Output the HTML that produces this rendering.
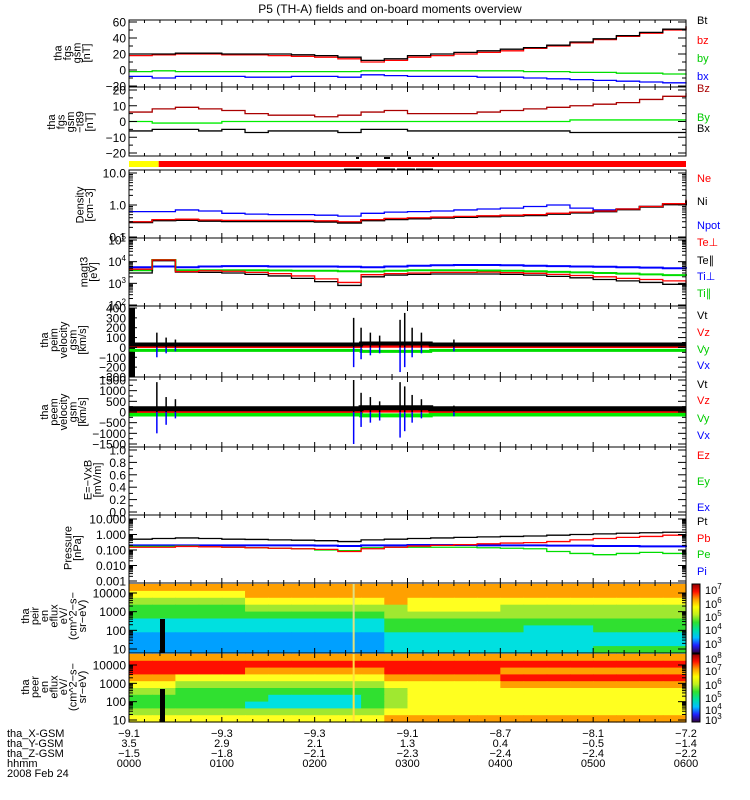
<!DOCTYPE html>
<html><head><meta charset="utf-8"><style>
html,body{margin:0;padding:0;background:#fff;}
svg{display:block;font-family:"Liberation Sans",sans-serif;}
</style></head><body>
<svg id="c" width="750" height="800" xmlns="http://www.w3.org/2000/svg">
<text x="390" y="13" font-size="12" text-anchor="middle">P5 (TH-A) fields and on-board moments overview</text>
</svg>
<script>
// ---- data (hours 0..6, 15-min samples) ----
const times=[0,0.25,0.5,0.75,1,1.25,1.5,1.75,2,2.25,2.5,2.75,3,3.25,3.5,3.75,4,4.25,4.5,4.75,5,5.25,5.5,5.75,6];
const bt=[20,20,21,21,20,20,20,19,18,16,12,14,18,20,22,24,26,28,31,35,39,43,47,51,55];
const bz=[18,19,20,20,19,19,18,17,16,14,10,12,16,18,20,22,24,27,30,34,38,42,46,50,54];
const by=[-2,-1,-2,-2,-2,-2,-2,-2,-2,-2,-1,-1,-1,-1,-1,-1,-1,-2,-2,-3,-3,-4,-4,-5,-6];
const bx=[-8,-10,-8,-8,-8,-9,-9,-8,-8,-9,-6,-7,-8,-8,-8,-9,-9,-10,-11,-12,-13,-14,-15,-16,-17];
const dBz=[6,8,9,8,7,5,4,4,3,4,6,7,5,5,5,6,7,8,9,10,11,12,14,16,18];
const dBy=[0,-1,-1,-1,0,0,0,0,0,0,0,0,0,0,0,0,0,0,0,1,1,1,1,1,1];
const dBx=[-6,-5,-5,-6,-5,-7,-6,-6,-6,-7,-5,-5,-6,-6,-6,-6,-6,-6,-6,-7,-7,-7,-7,-7,-7];
const ne=[0.3,0.35,0.36,0.34,0.33,0.33,0.33,0.33,0.32,0.3,0.35,0.38,0.4,0.42,0.44,0.46,0.48,0.5,0.55,0.6,0.65,0.75,0.9,1.1,1.5];
const ni=[0.29,0.33,0.34,0.32,0.31,0.31,0.31,0.31,0.3,0.28,0.33,0.36,0.38,0.4,0.42,0.44,0.46,0.48,0.53,0.58,0.63,0.73,0.88,1.05,1.4];
const npot=[0.62,0.62,0.7,0.65,0.55,0.52,0.5,0.5,0.48,0.45,0.55,0.6,0.62,0.65,0.7,0.75,0.8,0.9,1.0,0.8,0.7,0.75,0.9,1.1,1.3];
const tePerp=[4500,12000,3500,3800,3600,3200,2800,2200,1600,1100,2500,2800,3000,3200,3200,3300,3100,2900,2600,2300,2000,1700,1500,1300,1000];
const tePar=[3000,11000,3300,3200,3000,2600,2200,1700,1200,800,2000,2400,2600,2700,2700,2700,2600,2400,2100,1800,1500,1300,1100,900,700];
const tiPerp=[5500,6000,5500,6000,6200,6200,6000,6000,6000,5800,5500,6000,6500,6800,7000,7000,6800,6500,6200,6000,5800,5500,5300,5000,4800];
const tiPar=[4000,12000,4000,4000,4000,4000,3900,3800,3800,3600,3500,3800,4000,4000,4000,3900,3800,3600,3400,3200,3000,2800,2600,2400,2200];
const pt=[0.5,0.55,0.6,0.55,0.5,0.48,0.45,0.43,0.4,0.35,0.45,0.5,0.55,0.6,0.65,0.7,0.75,0.8,0.9,1.0,1.1,1.2,1.3,1.4,1.5];
const pb=[0.15,0.15,0.17,0.16,0.15,0.14,0.13,0.12,0.11,0.08,0.12,0.15,0.18,0.2,0.22,0.25,0.28,0.3,0.35,0.45,0.55,0.65,0.75,0.9,1.0];
const pe=[0.17,0.17,0.18,0.16,0.15,0.14,0.13,0.12,0.1,0.09,0.14,0.15,0.15,0.15,0.15,0.14,0.13,0.12,0.08,0.06,0.05,0.06,0.07,0.06,0.05];
const pi=[0.2,0.2,0.2,0.2,0.2,0.2,0.2,0.2,0.19,0.18,0.2,0.2,0.21,0.21,0.21,0.2,0.2,0.2,0.19,0.19,0.18,0.18,0.17,0.17,0.16];
const vBase1=[30,30,30,30,30,30,30,30,30,30,40,40,40,30,30,30,30,30,30,30,30,30,30,30,30];
const vBase2=[150,150,150,150,150,150,150,150,150,150,200,200,200,150,150,150,150,150,150,150,150,150,150,150,150];
const spikeT=[0.3,0.4,0.5,2.42,2.5,2.6,2.7,2.92,2.97,3.05,3.15,3.5];
const vt1Spike=[150,100,80,300,200,150,120,280,350,200,150,80];
const vx1Spike=[-100,-60,-40,-200,-120,-80,-60,-250,-200,-100,-60,-40];
const vt2Spike=[1400,700,600,1500,900,700,500,1400,1200,800,600,300];
const vx2Spike=[-1000,-600,-300,-1500,-700,-500,-400,-1200,-900,-500,-300,-200];
// spectrogram rows (high energy -> low), 24 columns of 15 min, level digits 0..9
const ionRows=["777777777777777777777777","666667777777777777777777","555556666667666666666666","444445555555666655555555","444444444445555555555555","333333333334444444444444","333333333334444443334444","222222222223333333333333","222222222223333333333333","222222222223333333334444"];
const eleRows=["777777777777777777777777","888888888888888888888888","888887777778888877777777","776666666667777788888888","665555555556666677777777","554444444445666666666666","444444333345666666666666","444443333345666666666666","555555555556666666666666","666666666667777777777777"];

// ---- geometry ----
const S=document.getElementById('c');
const NS='http://www.w3.org/2000/svg';
const X0=129,X1=686;
function xs(t){return X0+t*(X1-X0)/6;}
function el(tag,attrs,parent){const e=document.createElementNS(NS,tag);for(const k in attrs)e.setAttribute(k,attrs[k]);(parent||S).appendChild(e);return e;}
function linY(lo,hi,top,bot){return v=>bot-(v-lo)/(hi-lo)*(bot-top);}
function logY(lo,hi,top,bot){return v=>bot-(Math.log10(v)-Math.log10(lo))/(Math.log10(hi)-Math.log10(lo))*(bot-top);}
function series(vals,ys,color,name,w){
  let d='';
  for(let i=0;i<vals.length;i++){
    const x=xs(times[i]),y=ys(vals[i]);
    if(i===0)d+='M'+x+' '+y; else d+=' H'+x+' V'+y;
  }
  const p=el('path',{d:d,fill:'none',stroke:color,'stroke-width':w||1.3});
  
  
}
function spikes(tArr,vArr,ys,base,color,name){
  const g=el('g',{});
  
  
  for(let i=0;i<tArr.length;i++){
    el('line',{x1:xs(tArr[i]),x2:xs(tArr[i]),y1:ys(base),y2:ys(vArr[i]),stroke:color,'stroke-width':1.5},g);
  }
}
function frame(top,bot,name){
  const g=el('g',{});
  
  
  el('rect',{x:X0,y:top,width:X1-X0,height:bot-top,fill:'none',stroke:'#000','stroke-width':1},g);
  for(let m=0;m<=36;m++){
    const x=X0+m*(X1-X0)/36, L=(m%6===0)?5:3;
    el('line',{x1:x,x2:x,y1:top,y2:top+L,stroke:'#000'},g);
    el('line',{x1:x,x2:x,y1:bot,y2:bot-L,stroke:'#000'},g);
  }
}
function yTicks(vals,labels,ys,minor,name){
  const g=el('g',{});
  
  
  vals.forEach((v,i)=>{
    const y=ys(v);
    el('line',{x1:X0,x2:X0+8,y1:y,y2:y,stroke:'#000'},g);
    el('line',{x1:X1,x2:X1-8,y1:y,y2:y,stroke:'#000'},g);
    const t=el('text',{x:126,y:y+4.5,'font-size':12,'text-anchor':'end'},g);
    t.innerHTML=labels[i];
  });
  minor.forEach(v=>{const y=ys(v);
    el('line',{x1:X0,x2:X0+4,y1:y,y2:y,stroke:'#000'},g);
    el('line',{x1:X1,x2:X1-4,y1:y,y2:y,stroke:'#000'},g);});
}
function leftLabel(lines,yc,xr,name){
  const g=el('g',{});
  
  
  const n=lines.length;
  lines.forEach((s,i)=>{
    const x=xr-(n-1-i)*9.5;
    const t=el('text',{x:0,y:0,'font-size':11,'text-anchor':'middle',transform:'translate('+x+','+yc+') rotate(-90)'},g);
    t.textContent=s;
  });
}
function rightLabels(items,name){
  items.forEach(it=>{
    const t=el('text',{x:697,y:it[1],'font-size':11,fill:it[2]});
    t.innerHTML=it[0];
    
    
  });
}
function logMinor(lo,hi){const a=[];for(let d=Math.log10(lo);d<Math.log10(hi);d++){for(let k=2;k<=9;k++)a.push(k*Math.pow(10,d));}return a;}

// Panel 1: fgs gsm
let y1=linY(-20,60,22,86);
series(bx,y1,'#0000ff','bx-line');series(by,y1,'#00dd00','by-line');
series(bz,y1,'#ff0000','bz-line');series(bt,y1,'#000000','bt-line');
frame(20,87,'fgs-panel');
yTicks([60,40,20,0,-20],['60','40','20','0','−20'],y1,[50,30,10,-10],'fgs');
leftLabel(['tha','fgs','gsm','[nT]'],53,90,'fgs-y-title');
rightLabels([['Bt',24,'#000','bt'],['bz',44,'#f00','bz'],['by',62,'#0c0','by'],['bx',80,'#00f','bx']],'legend');

// Panel 2: fgs - t89
let y2=linY(-20,20,90,153);
series(dBx,y2,'#000','dbx-line');series(dBy,y2,'#00ee00','dby-line');series(dBz,y2,'#aa0000','dbz-line');
frame(87,156,'fgs-t89-panel');
yTicks([20,10,0,-10,-20],['20','10','0','−10','−20'],y2,[15,5,-5,-15],'fgs-t89');
leftLabel(['tha','fgs','gsm','−t89','[nT]'],122,93,'fgs-t89-y-title');
rightLabels([['Bz',92,'#a00','dbz'],['By',121,'#0c0','dby'],['Bx',132,'#000','dbx']],'legend');

// mode bar
el('rect',{x:X0,y:161,width:xs(0.32)-X0,height:6,fill:'#ffff00',});
el('rect',{x:xs(0.32),y:161,width:X1-xs(0.32),height:6,fill:'#ff0000',});
[[344,362],[377,395],[397,415],[416,433]].forEach(s=>el('line',{x1:s[0],x2:s[1],y1:169,y2:169,stroke:'#000'}));
[[356,359],[384,390],[408,411],[432,434]].forEach(s=>el('rect',{x:s[0],y:157,width:s[1]-s[0],height:2,fill:'#000'}));

// Panel 3: density
let y3=logY(0.1,10,173,237);
series(npot,y3,'#0000ff','npot-line');series(ni,y3,'#000','ni-line',2);series(ne,y3,'#ff0000','ne-line');
frame(170,238,'density-panel');
yTicks([10,1,0.1],['10.0','1.0','0.1'],y3,logMinor(0.1,10),'density');
leftLabel(['Density','[cm−3]'],205,93,'density-y-title');
rightLabels([['Ne',182,'#f00','ne'],['Ni',205,'#000','ni'],['Npot',229,'#00f','npot'],['Te⊥',246,'#f00','te-perp']],'legend');

// Panel 4: temperatures
let y4=logY(100,1e5,240,305);
series(tiPerp,y4,'#0000ff','ti-perp-line',2);series(tiPar,y4,'#00dd00','ti-par-line',2);
series(tePar,y4,'#000','te-par-line');series(tePerp,y4,'#ff0000','te-perp-line');
frame(238,306,'temperature-panel');
yTicks([1e5,1e4,1e3,100],['10<tspan dy="-5" font-size="8">5</tspan>','10<tspan dy="-5" font-size="8">4</tspan>','10<tspan dy="-5" font-size="8">3</tspan>','10<tspan dy="-5" font-size="8">2</tspan>'],y4,logMinor(100,1e5),'temperature');
leftLabel(['magt3','[eV]'],272,97,'temperature-y-title');
rightLabels([['Te∥',264,'#000','te-par'],['Ti⊥',280,'#00f','ti-perp'],['Ti∥',297,'#0c0','ti-par']],'legend');

// Panel 5: peim velocity
let y5=linY(-300,400,308,377);
el('rect',{x:X0,y:308,width:6,height:69,fill:'#000'});
series(vBase1.map(v=>-v),y5,'#00dd00','vy1-line',3);
series(vBase1.map(v=>v*0.3),y5,'#ff0000','vz1-line',3);
series(vBase1,y5,'#000','vt1-line',4);
spikes(spikeT,vx1Spike,y5,0,'#0000ff','vx1-spikes');
spikes(spikeT,vt1Spike,y5,0,'#000','vt1-spikes');
frame(306,377,'peim-velocity-panel');
yTicks([400,300,200,100,0,-100,-200,-300],['400','300','200','100','0','−100','−200','−300'],y5,[350,250,150,50,-50,-150,-250],'peim-velocity');
leftLabel(['tha','peim','velocity','gsm','[km/s]'],340,86,'peim-velocity-y-title');
rightLabels([['Vt',319,'#000','vt1'],['Vz',336,'#f00','vz1'],['Vy',353,'#0c0','vy1'],['Vx',369,'#00f','vx1']],'legend');

// Panel 6: peem velocity
let y6=linY(-1500,1500,380,444);
series(vBase2.map(v=>-v*0.8),y6,'#00ee00','vy2-line',4);
series(vBase2.map(v=>v*0.2),y6,'#ff0000','vz2-line',3);
series(vBase2,y6,'#000','vt2-line',5);
spikes(spikeT,vx2Spike,y6,0,'#0000ff','vx2-spikes');
spikes(spikeT,vt2Spike,y6,0,'#000','vt2-spikes');
frame(377,447,'peem-velocity-panel');
yTicks([1500,1000,500,0,-500,-1000,-1500],['1500','1000','500','0','−500','−1000','−1500'],y6,[1250,750,250,-250,-750,-1250],'peem-velocity');
leftLabel(['tha','peem','velocity','gsm','[km/s]'],412,86,'peem-velocity-y-title');
rightLabels([['Vt',388,'#000','vt2'],['Vz',404,'#f00','vz2'],['Vy',422,'#0c0','vy2'],['Vx',439,'#00f','vx2']],'legend');

// Panel 7: E = -VxB (empty)
let y7=linY(0,1,450,512);
frame(447,515,'efield-panel');
yTicks([1,0.8,0.6,0.4,0.2,0],['1.0','0.8','0.6','0.4','0.2','0.0'],y7,[0.9,0.7,0.5,0.3,0.1],'efield');
leftLabel(['E=−VxB','[mV/m]'],480,101,'efield-y-title');
rightLabels([['Ez',459,'#f00','ez'],['Ey',485,'#0c0','ey'],['Ex',511,'#00f','ex']],'legend');

// Panel 8: pressure
let y8=logY(0.001,10,519,581);
series(pi,y8,'#0000ff','pi-line',2);series(pe,y8,'#00dd00','pe-line');
series(pb,y8,'#ff0000','pb-line');series(pt,y8,'#000','pt-line');
frame(515,583,'pressure-panel');
yTicks([10,1,0.1,0.01,0.001],['10.000','1.000','0.100','0.010','0.001'],y8,logMinor(0.001,10),'pressure');
leftLabel(['Pressure','[nPa]'],548,81,'pressure-y-title');
rightLabels([['Pt',525,'#000','pt'],['Pb',542,'#f00','pb'],['Pe',558,'#0c0','pe'],['Pi',575,'#00f','pi']],'legend');

// spectrograms
const cmap=['#3a0060','#1010ff','#00a0ff','#00e0e0','#30e030','#a0e830','#ffff20','#ffa000','#ff1000','#a00000'];
function spectro(rows,top,bot,name){
  const g=el('g',{});
  
  
  const nr=rows.length,rh=(bot-top)/nr,cw=(X1-X0)/24;
  rows.forEach((r,i)=>{
    for(let j=0;j<r.length;j++){
      el('rect',{x:X0+j*cw,y:top+i*rh,width:cw+0.6,height:rh+0.6,fill:cmap[+r[j]]},g);
    }
  });
}
spectro(ionRows,584,653,'ion-spectrogram');
el('rect',{x:160,y:619,width:5,height:34,fill:'#000'});
el('line',{x1:xs(2.42),x2:xs(2.42),y1:584,y2:653,stroke:'#e0e080','stroke-width':2});
frame(583,653,'ion-spectrogram-panel');
let ye1=logY(10,10000,593,649);
yTicks([10000,1000,100,10],['10000','1000','100','10'],ye1,logMinor(10,10000),'ion-energy');
leftLabel(['tha','peir','en','eflux','eV/','(cm^2−s−','sr−eV)'],616,86,'ion-spectrogram-y-title');

spectro(eleRows,654,722,'electron-spectrogram');
el('rect',{x:160,y:689,width:5,height:33,fill:'#000'});
el('line',{x1:xs(2.42),x2:xs(2.42),y1:654,y2:722,stroke:'#ffe040','stroke-width':2});
frame(653,722,'electron-spectrogram-panel');
let ye2=logY(10,10000,665,720);
yTicks([10000,1000,100,10],['10000','1000','100','10'],ye2,logMinor(10,10000),'electron-energy');
leftLabel(['tha','peer','en','eflux','eV/','(cm^2−s−','sr−eV)'],687,86,'electron-spectrogram-y-title');

// colorbars
const defs=el('defs',{});
const gr=el('linearGradient',{id:'cb',x1:0,y1:1,x2:0,y2:0},defs);
['#300040','#2020ff','#00c0ff','#00e0a0','#30e030','#c0f020','#ffff00','#ffa000','#ff1000','#900000'].forEach((c,i)=>el('stop',{offset:i/9,'stop-color':c},gr));
el('rect',{x:692,y:584,width:8,height:69,fill:'url(#cb)',stroke:'#000',});
el('rect',{x:692,y:654,width:8,height:68,fill:'url(#cb)',stroke:'#000',});
function cbLabels(exps,ys,name){
  exps.forEach((e,i)=>{
    const t=el('text',{x:705,y:ys[i],'font-size':11});
    t.innerHTML='10<tspan dy="-5" font-size="8">'+e+'</tspan>';
    
    
  });
}
cbLabels([7,6,5,4,3],[594,608,621,634,648],'ion-colorbar');
cbLabels([8,7,6,5,4,3],[663,675,689,702,714,724],'electron-colorbar');

// ephemeris labels
const ephX=['−9.1','−9.3','−9.3','−9.1','−8.7','−8.1','−7.2'];
const ephY=['3.5','2.9','2.1','1.3','0.4','−0.5','−1.4'];
const ephZ=['−1.5','−1.8','−2.1','−2.3','−2.4','−2.4','−2.2'];
const hhmm=['0000','0100','0200','0300','0400','0500','0600'];
[['tha_X-GSM',737],['tha_Y-GSM',747],['tha_Z-GSM',757],['hhmm',767],['2008 Feb 24',777]].forEach(r=>{
  const t=el('text',{x:7,y:r[1],'font-size':11});t.textContent=r[0];
  
  
});
[[ephX,737],[ephY,747],[ephZ,757],[hhmm,767]].forEach(r=>{
  r[0].forEach((s,i)=>{
    const t=el('text',{x:xs(i),y:r[1],'font-size':11,'text-anchor':'middle'});t.textContent=s;
    
    
  });
});
</script>
</body></html>
